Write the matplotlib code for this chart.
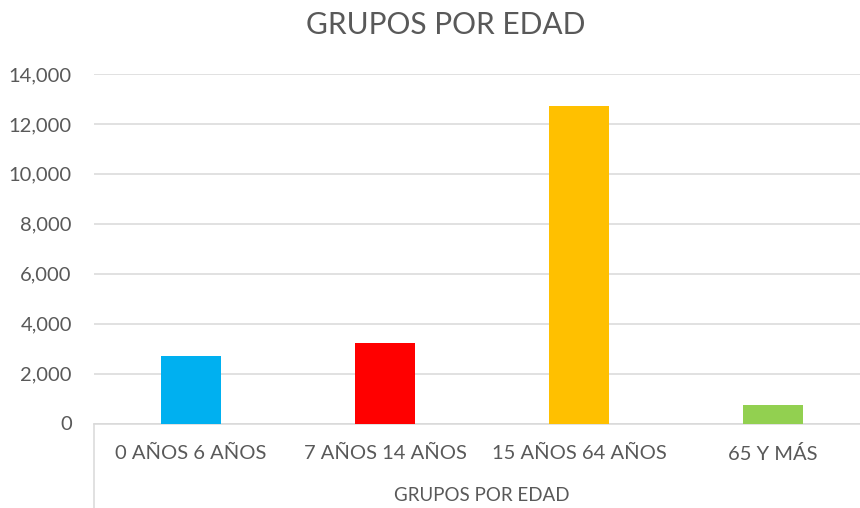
import matplotlib.pyplot as plt
from matplotlib.ticker import FuncFormatter

# Datos del gráfico
categorias = ['0 AÑOS 6 AÑOS', '7 AÑOS 14 AÑOS', '15 AÑOS 64 AÑOS', '65 Y MÁS']
valores = [2700, 3230, 12730, 730]
colores = ['#00B0F0', '#FF0000', '#FFC000', '#92D050']
yticks = [0, 2000, 4000, 6000, 8000, 10000, 12000, 14000]

plt.rcParams['font.family'] = ['Lato', 'DejaVu Sans']
gris = '#595959'
linea = '#d9d9d9'

W, H = 860, 508
fig = plt.figure(figsize=(W / 100, H / 100), dpi=100)
# el área del gráfico se sale un poco por la derecha, como en la imagen
ax = fig.add_axes([94 / W, 84.5 / H, 776 / W, 349.5 / H])

x = range(len(categorias))
ax.bar(x, valores, width=0.31, color=colores, zorder=3)

ax.set_xlim(-0.5, 3.5)
ax.set_ylim(0, 14000)
ax.set_yticks(yticks)
ax.yaxis.set_major_formatter(FuncFormatter(lambda v, p: f'{v:,.0f}'))
ax.set_xticks(list(x))
ax.set_xticklabels(categorias)

ax.grid(axis='y', color=linea, linewidth=1.1, zorder=0)
for s in ['top', 'right', 'left']:
    ax.spines[s].set_visible(False)
ax.spines['bottom'].set_color(linea)
ax.spines['bottom'].set_linewidth(1.1)
ax.tick_params(axis='y', length=0, pad=16, labelsize=14.5, labelcolor=gris)
ax.tick_params(axis='x', length=0, pad=15.5, labelsize=14.5, labelcolor=gris)

# líneas del eje de categorías que bajan hasta el borde
ax.plot([0, 0], [0, -0.3], transform=ax.transAxes, color=linea,
        linewidth=1.1, clip_on=False)

ax.set_xlabel('GRUPOS POR EDAD', fontsize=13.5, color=gris, labelpad=17)
fig.text(446 / W, 1 - 25 / H, 'GRUPOS POR EDAD', ha='center', va='center',
         fontsize=21.5, color=gris)

fig.savefig('out.png', dpi=100)
